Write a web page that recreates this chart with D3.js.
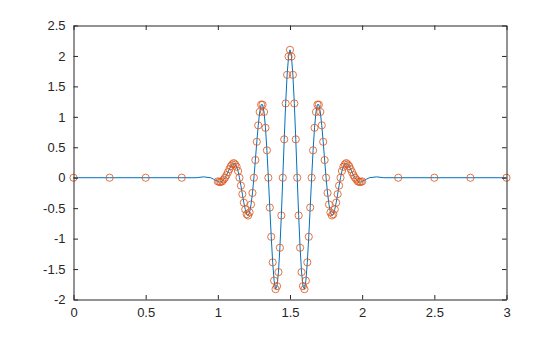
<!DOCTYPE html>
<html>
<head>
<meta charset="utf-8">
<script src="https://cdn.jsdelivr.net/npm/d3@7"></script>
<style>
  body { margin: 0; background: #fff; }
  text { font-family: "Liberation Sans", Arial, sans-serif; }
</style>
</head>
<body>
<div id="chart"></div>
<script>
// sample points (orange circles)
var markerX = [0, 0.25, 0.5, 0.75,
  1.00, 1.01, 1.02, 1.03, 1.04, 1.05, 1.06, 1.07, 1.08, 1.09,
  1.10, 1.11, 1.12, 1.13, 1.14, 1.15, 1.16, 1.17, 1.18, 1.19,
  1.20, 1.21, 1.22, 1.23, 1.24, 1.25, 1.26, 1.27, 1.28, 1.29,
  1.30, 1.31, 1.32, 1.33, 1.34, 1.35, 1.36, 1.37, 1.38, 1.39,
  1.40, 1.41, 1.42, 1.43, 1.44, 1.45, 1.46, 1.47, 1.48, 1.49,
  1.50, 1.51, 1.52, 1.53, 1.54, 1.55, 1.56, 1.57, 1.58, 1.59,
  1.60, 1.61, 1.62, 1.63, 1.64, 1.65, 1.66, 1.67, 1.68, 1.69,
  1.70, 1.71, 1.72, 1.73, 1.74, 1.75, 1.76, 1.77, 1.78, 1.79,
  1.80, 1.81, 1.82, 1.83, 1.84, 1.85, 1.86, 1.87, 1.88, 1.89,
  1.90, 1.91, 1.92, 1.93, 1.94, 1.95, 1.96, 1.97, 1.98, 1.99,
  2.00, 2.25, 2.5, 2.75, 3];
var markerY = [0, 0, 0, 0,
  -0.06, -0.07, -0.07, -0.06, -0.03, 0, 0.04, 0.09, 0.14, 0.19,
  0.22, 0.24, 0.22, 0.18, 0.11, 0, -0.13, -0.27, -0.41, -0.52,
  -0.60, -0.62, -0.57, -0.44, -0.25, 0, 0.29, 0.59, 0.86, 1.08,
  1.20, 1.20, 1.08, 0.82, 0.45, 0, -0.49, -0.97, -1.39, -1.69,
  -1.83, -1.78, -1.55, -1.15, -0.62, 0, 0.63, 1.22, 1.69, 1.99,
  2.10, 1.99, 1.69, 1.22, 0.63, 0, -0.62, -1.15, -1.55, -1.78,
  -1.83, -1.69, -1.39, -0.97, -0.49, 0, 0.45, 0.82, 1.08, 1.20,
  1.20, 1.08, 0.86, 0.59, 0.29, 0, -0.25, -0.44, -0.57, -0.62,
  -0.60, -0.52, -0.41, -0.27, -0.13, 0, 0.11, 0.18, 0.22, 0.24,
  0.22, 0.19, 0.14, 0.09, 0.04, 0, -0.03, -0.06, -0.07, -0.07,
  -0.06, 0, 0, 0, 0];

// extra points on the blue curve outside the dense region
var tailX = [0.85, 0.90, 0.95, 0.97, 2.03, 2.05, 2.10, 2.15];
var tailY = [0, 0.014, 0, -0.024, -0.024, 0, 0.014, 0];

var xTicks = [0, 0.5, 1, 1.5, 2, 2.5, 3];
var yTicks = [-2, -1.5, -1, -0.5, 0, 0.5, 1, 1.5, 2, 2.5];

var width = 560, height = 337;
var axisColor = "#262626";

var svg = d3.select("#chart")
    .append("svg")
    .attr("width", width)
    .attr("height", height);

svg.append("rect").attr("width", width).attr("height", height).attr("fill", "#fff");

var x = d3.scaleLinear().domain([0, 3]).range([73.5, 506.5]);
var y = d3.scaleLinear().domain([-2, 2.5]).range([299.5, 25.5]);

var fmt = function(d) { return String(d); };

// line data = markers + tails, sorted by x
var linePts = markerX.map((d, i) => [d, markerY[i]])
    .concat(tailX.map((d, i) => [d, tailY[i]]))
    .sort((a, b) => a[0] - b[0]);

var g = svg.append("g");

g.append("path")
    .datum(linePts)
    .attr("fill", "none")
    .attr("stroke", "#0072BD")
    .attr("stroke-width", 1)
    .attr("d", d3.line().x(d => x(d[0])).y(d => y(d[1])));

g.selectAll("circle")
    .data(markerX)
    .enter().append("circle")
    .attr("cx", d => x(d))
    .attr("cy", (d, i) => y(markerY[i]))
    .attr("r", 3.6)
    .attr("fill", "none")
    .attr("stroke", "#D95319")
    .attr("stroke-width", 0.8);

// axes: ticks inside, box on
var tl = 4.5;
var axBottom = svg.append("g").attr("transform", "translate(0," + y(-2) + ")")
    .call(d3.axisBottom(x).tickValues(xTicks).tickFormat(fmt).tickSizeInner(-tl).tickSizeOuter(0).tickPadding(8));
var axTop = svg.append("g").attr("transform", "translate(0," + y(2.5) + ")")
    .call(d3.axisTop(x).tickValues(xTicks).tickFormat("").tickSizeInner(-tl).tickSizeOuter(0));
var axLeft = svg.append("g").attr("transform", "translate(" + x(0) + ",0)")
    .call(d3.axisLeft(y).tickValues(yTicks).tickFormat(fmt).tickSizeInner(-tl).tickSizeOuter(0).tickPadding(8));
var axRight = svg.append("g").attr("transform", "translate(" + x(3) + ",0)")
    .call(d3.axisRight(y).tickValues(yTicks).tickFormat("").tickSizeInner(-tl).tickSizeOuter(0));

[axBottom, axTop, axLeft, axRight].forEach(function(a) {
    a.attr("font-size", null);
    a.selectAll("path, line").attr("stroke", axisColor);
    a.selectAll("text").attr("fill", axisColor).style("font-size", "13px")
        .style("font-family", "'Liberation Sans', Arial, sans-serif");
});
</script>
</body>
</html>
